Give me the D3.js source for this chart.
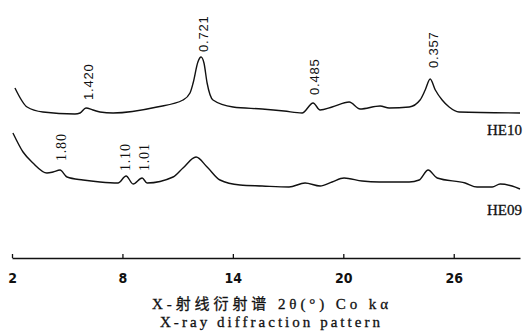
<!DOCTYPE html>
<html>
<head>
<meta charset="utf-8">
<script src="https://cdn.jsdelivr.net/npm/d3@7"></script>
<style>
  body { margin: 0; background: #fff; }
  svg { display: block; }
</style>
</head>
<body>
<div id="app"></div>
<script>
// 2theta (deg) and relative intensity
var he10Theta = [2.16, 2.82, 3.68, 5.42, 5.7, 6.02, 6.4, 6.78, 7.49, 9.88, 11.29, 11.67, 11.84, 12.1, 12.27, 12.43, 12.6, 12.92, 14.01, 15.59, 16.78, 17.76, 18.36, 18.74, 19.39, 20.32, 20.91, 22.0, 22.49, 23.58, 24.17, 24.45, 24.72, 25.0, 25.37, 25.75, 26.29, 29.6];
var he10Int   = [26, 7, 2, 0, 1, 6, 4, 2, 1, 7, 14, 21, 31, 52, 57, 51, 31, 14, 7, 5, 3, 1, 11, 4, 7, 12, 5, 8, 6, 7, 14, 24, 35, 24, 14, 7, 2, 1];

var he09Theta = [2.05, 2.6, 3.14, 3.9, 4.23, 4.61, 4.99, 5.86, 6.78, 7.76, 8.2, 8.58, 9.07, 9.34, 10.75, 11.29, 12.0, 12.6, 13.3, 14.39, 15.59, 17.05, 17.92, 18.74, 19.39, 20.04, 21.02, 21.95, 23.58, 24.12, 24.61, 25.1, 26.62, 27.27, 28.09, 28.52, 29.17, 29.6];
var he09Int   = [57, 38, 27, 17, 18, 20, 13, 10, 8, 7, 14, 6, 12, 7, 13, 22, 33, 23, 10, 5, 4, 3, 7, 4, 8, 12, 9, 8, 8, 10, 20, 12, 7, 3, 3, 6, 4, 1];

var seriesNames = ["HE10", "HE09"];
var seriesOffset = [144, 68];

// peak labels (d-spacing, nm)
var he10Labels = ["1.420", "0.721", "0.485", "0.357"];
var he10LabelTheta = [6.13, 12.38, 18.41, 24.88];
var he10LabelInt = [14, 62, 19, 46];
var he09Labels = ["1.80", "1.10", "1.01"];
var he09LabelTheta = [4.66, 8.14, 9.17];
var he09LabelInt = [29, 19, 19];

var tickValues = [2, 8, 14, 20, 26];

var w = 524, h = 334;
var svg = d3.select("#app").append("svg")
  .attr("width", w)
  .attr("height", h)
  .style("background-color", "#fff");

var xScale = d3.scaleLinear().domain([2, 29.6]).range([12, 520]);
var yScale = d3.scaleLinear().domain([0, 250]).range([258, 8]);

var line = d3.line()
  .x(d => xScale(d[0]))
  .y(d => yScale(d[1]))
  .curve(d3.curveMonotoneX);

var series = [
  { theta: he10Theta, val: he10Int, labels: he10Labels, lt: he10LabelTheta, lv: he10LabelInt, font: "'Liberation Sans', Arial, sans-serif", size: "13px" },
  { theta: he09Theta, val: he09Int, labels: he09Labels, lt: he09LabelTheta, lv: he09LabelInt, font: "'Liberation Serif', 'Times New Roman', serif", size: "14px" }
];

series.forEach((s, k) => {
  var off = seriesOffset[k];
  var pts = s.theta.map((t, i) => [t, s.val[i] + off]);
  svg.append("path")
    .attr("d", line(pts))
    .attr("fill", "none")
    .attr("stroke", "#111")
    .attr("stroke-width", 1.4);

  s.labels.forEach((lab, i) => {
    var x = xScale(s.lt[i]), y = yScale(s.lv[i] + off);
    svg.append("text")
      .attr("transform", "translate(" + x + "," + y + ") rotate(-90)")
      .attr("dy", "0.35em")
      .attr("text-anchor", "start")
      .style("font-family", s.font)
      .style("font-size", s.size)
      .style("letter-spacing", "0.8px")
      .attr("fill", "#111")
      .text(lab);
  });

  svg.append("text")
    .attr("x", 522)
    .attr("y", yScale(off) + (k == 0 ? 21 : 25))
    .attr("text-anchor", "end")
    .style("font-family", "'Liberation Serif', serif")
    .style("font-size", "15px")
    .style("stroke", "#111")
    .style("stroke-width", "0.3px")
    .attr("fill", "#111")
    .text(seriesNames[k]);
});

var xAxis = d3.axisBottom(xScale)
  .tickValues(tickValues)
  .tickSizeInner(-4)
  .tickSizeOuter(0)
  .tickPadding(15)
  .tickFormat(d3.format("d"));

var gx = svg.append("g")
  .attr("transform", "translate(0,258)")
  .call(xAxis);
gx.select(".domain").attr("stroke", "#111").attr("stroke-width", 1.4);
gx.selectAll(".tick line").attr("stroke", "#111").attr("stroke-width", 1.3);
gx.selectAll(".tick text")
  .style("font-family", "'Liberation Sans Narrow', 'DejaVu Sans Condensed', sans-serif")
  .style("font-weight", "bold")
  .style("font-size", "14px")
  .attr("fill", "#111");

svg.append("text")
  .attr("x", 270)
  .attr("y", 309)
  .attr("text-anchor", "middle")
  .attr("textLength", 236)
  .style("font-family", "'Liberation Serif', 'Noto Sans CJK SC', serif")
  .style("font-size", "15px")
  .style("stroke", "#111")
  .style("stroke-width", "0.3px")
  .attr("fill", "#111")
  .text("X-射线衍射谱 2θ(°) Co kα");

svg.append("text")
  .attr("x", 270)
  .attr("y", 327)
  .attr("text-anchor", "middle")
  .attr("textLength", 220)
  .style("font-family", "'Liberation Serif', serif")
  .style("font-size", "15px")
  .style("stroke", "#111")
  .style("stroke-width", "0.3px")
  .attr("fill", "#111")
  .text("X-ray diffraction pattern");
</script>
</body>
</html>
